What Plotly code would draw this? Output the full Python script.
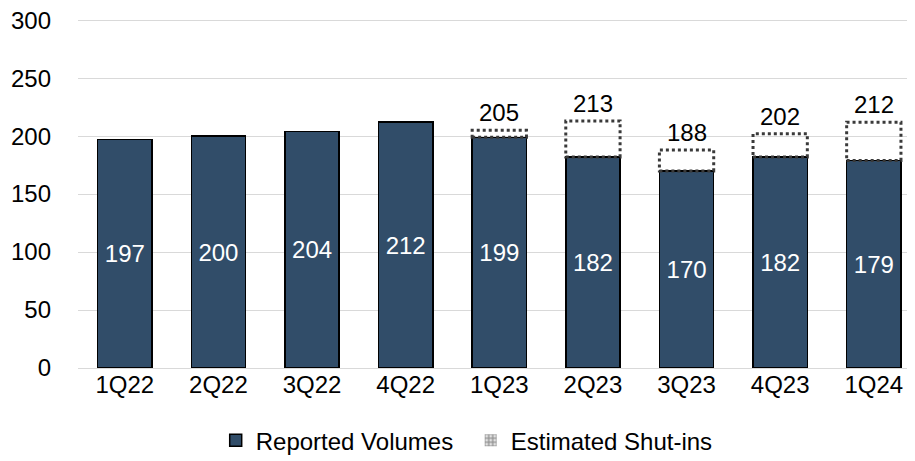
import plotly.graph_objects as go

# ===== DONNÉES =====
quarters = ["1Q22", "2Q22", "3Q22", "4Q22", "1Q23", "2Q23", "3Q23", "4Q23", "1Q24"]
reported = [197, 200, 204, 212, 199, 182, 170, 182, 179]
totals = [197, 200, 204, 212, 205, 213, 188, 202, 212]
y_ticks = [0, 50, 100, 150, 200, 250, 300]

shut_ins = [t - r for t, r in zip(totals, reported)]
x_pos = list(range(len(quarters)))

FONT = "Liberation Sans, Arial, sans-serif"
FONT_SIZE = 24
BAR_COLOR = "#314D69"
DOT_COLOR = "#3A3A3A"
BAR_WIDTH = 0.58

fig = go.Figure()

# Reported volumes
fig.add_trace(go.Bar(
    x=x_pos,
    y=reported,
    width=BAR_WIDTH,
    name="Reported Volumes",
    marker=dict(color=BAR_COLOR, line=dict(color="black", width=1.5)),
    text=reported,
    textposition="inside",
    insidetextanchor="middle",
    textfont=dict(color="white", size=FONT_SIZE, family=FONT),
    hovertemplate="%{y}<extra>Reported Volumes</extra>",
))

# Estimated shut-ins (fond transparent, contour pointillé via shapes)
fig.add_trace(go.Bar(
    x=x_pos,
    y=shut_ins,
    width=BAR_WIDTH,
    name="Estimated Shut-ins",
    marker=dict(color="rgba(255,255,255,0)", line=dict(width=0)),
    showlegend=False,
    hovertemplate="%{y}<extra>Estimated Shut-ins</extra>",
))

# Entrée de légende pour les shut-ins
fig.add_trace(go.Bar(
    x=[None],
    y=[None],
    name="Estimated Shut-ins",
    marker=dict(
        color="white",
        line=dict(width=0),
        pattern=dict(shape=".", fgcolor=DOT_COLOR, bgcolor="white", size=5, solidity=0.75),
    ),
))

for i, (r, s, t) in enumerate(zip(reported, shut_ins, totals)):
    if s <= 0:
        continue
    fig.add_shape(
        type="rect", xref="x", yref="y",
        x0=i - BAR_WIDTH / 2, x1=i + BAR_WIDTH / 2, y0=r, y1=t,
        line=dict(color=DOT_COLOR, width=3, dash="dot"),
        fillcolor="rgba(0,0,0,0)",
    )
    fig.add_annotation(
        x=i, y=t, text=str(t), showarrow=False,
        yanchor="bottom", yshift=2,
        font=dict(size=FONT_SIZE, color="black", family=FONT),
    )

# La page ajoute une marge de 8px autour de la figure
fig.update_layout(
    barmode="stack",
    width=907,
    height=453,
    margin=dict(l=70, r=0, t=11, b=93),
    paper_bgcolor="white",
    plot_bgcolor="white",
    font=dict(family=FONT, size=FONT_SIZE, color="black"),
    showlegend=True,
    legend=dict(
        orientation="h",
        xref="container", yref="container",
        x=0.229, xanchor="left",
        y=0.045, yanchor="middle",
        font=dict(size=FONT_SIZE),
        itemwidth=30,
        entrywidth=210,
        traceorder="normal",
    ),
    xaxis=dict(
        tickmode="array",
        tickvals=x_pos,
        ticktext=quarters,
        range=[-0.5, 8.44],
        showgrid=False,
        zeroline=False,
        showline=False,
        ticks="",
        automargin=False,
    ),
    yaxis=dict(
        range=[0, 301],
        tickvals=y_ticks,
        showgrid=True,
        gridcolor="#D9D9D9",
        gridwidth=1,
        zeroline=True,
        zerolinecolor="#D9D9D9",
        zerolinewidth=1,
        ticks="",
        ticklabelstandoff=26,
        ticklabeloverflow="allow",
        automargin=False,
    ),
)

fig.write_html("out.html")
